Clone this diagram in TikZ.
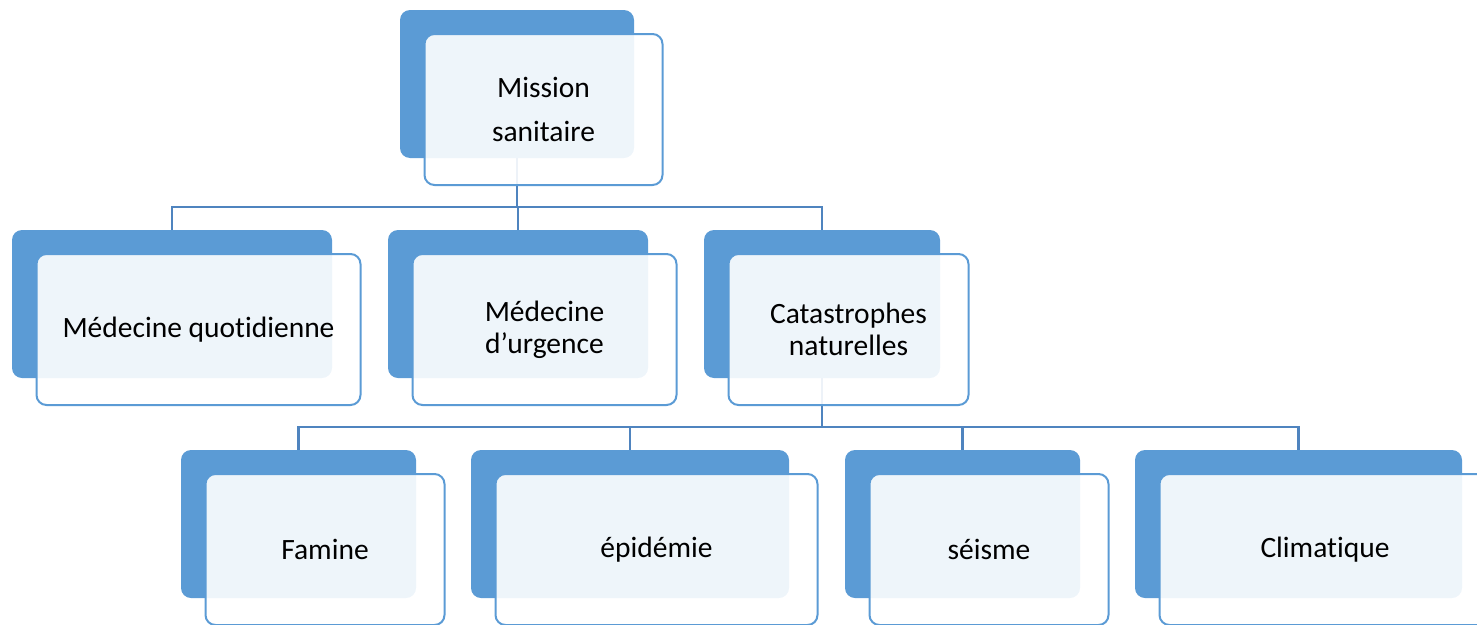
\documentclass[tikz,border=0pt]{standalone}
\usepackage{fontspec}
\setmainfont{Carlito}[RawFeature={-liga;-clig;-calt;-dlig}]
\definecolor{bluefill}{HTML}{5B9BD5}
\definecolor{linkblue}{HTML}{4F84BF}
\tikzset{
  backbox/.style={fill=bluefill, draw=none, rounded corners=10pt, minimum height=148pt, inner sep=0pt},
  frontbox/.style={fill=white, fill opacity=0.9, text opacity=1, draw=bluefill, line width=2pt,
    rounded corners=10pt, minimum height=151pt, inner sep=0pt, align=center,
    font=\fontsize{29.5}{32}\selectfont},
  link/.style={draw=linkblue, line width=2.8pt}
}
\begin{document}
\begin{tikzpicture}[x=1pt,y=-1pt]
\useasboundingbox (0,0) rectangle (1477,624);
\clip (0,0) rectangle (1477,624);
% back boxes
\node[backbox, minimum width=234pt] (mb) at (517,84) {};
\node[backbox, minimum width=320pt] (qb) at (172,304) {};
\node[backbox, minimum width=260pt] (ub) at (518,304) {};
\node[backbox, minimum width=236pt] (cb) at (822,304) {};
\node[backbox, minimum width=235pt] (fb) at (298.5,524) {};
\node[backbox, minimum width=318pt] (eb) at (630,524) {};
\node[backbox, minimum width=235pt] (sb) at (962.5,524) {};
\node[backbox, minimum width=327pt] (kb) at (1298.5,524) {};
% connectors
\coordinate (j1) at (517,207);
\draw[link] (mb.south) -- (j1);
\draw[link] (qb.north) |- (j1) -| (cb.north);
\draw[link] (ub.north) -- (ub.north |- j1);
\coordinate (j2) at (822,427);
\draw[link] (cb.south) -- (j2);
\draw[link] (fb.north) |- (j2) -| (kb.north);
\draw[link] (eb.north) -- (eb.north |- j2);
\draw[link] (sb.north) -- (sb.north |- j2);
% front boxes
\node[frontbox, minimum width=238pt, font=\fontsize{29.5}{44}\selectfont] (mf) at (543.5,109.5) {Mission\\sanitaire};
\node[frontbox, minimum width=324pt] (qf) at (198.5,329.5) {Médecine quotidienne};
\node[frontbox, minimum width=264pt] (uf) at (544.5,329.5) {Médecine\\d’urgence};
\node[frontbox, minimum width=240pt] (cf) at (848.5,329.5) {Catastrophes\\naturelles};
\node[frontbox, minimum width=239pt] (ff) at (325,549.5) {Famine};
\node[frontbox, minimum width=322pt] (ef) at (656.5,549.5) {épidémie};
\node[frontbox, minimum width=239pt] (sf) at (989,549.5) {séisme};
\node[frontbox, minimum width=331pt] (kf) at (1325,549.5) {Climatique};
\end{tikzpicture}
\end{document}
